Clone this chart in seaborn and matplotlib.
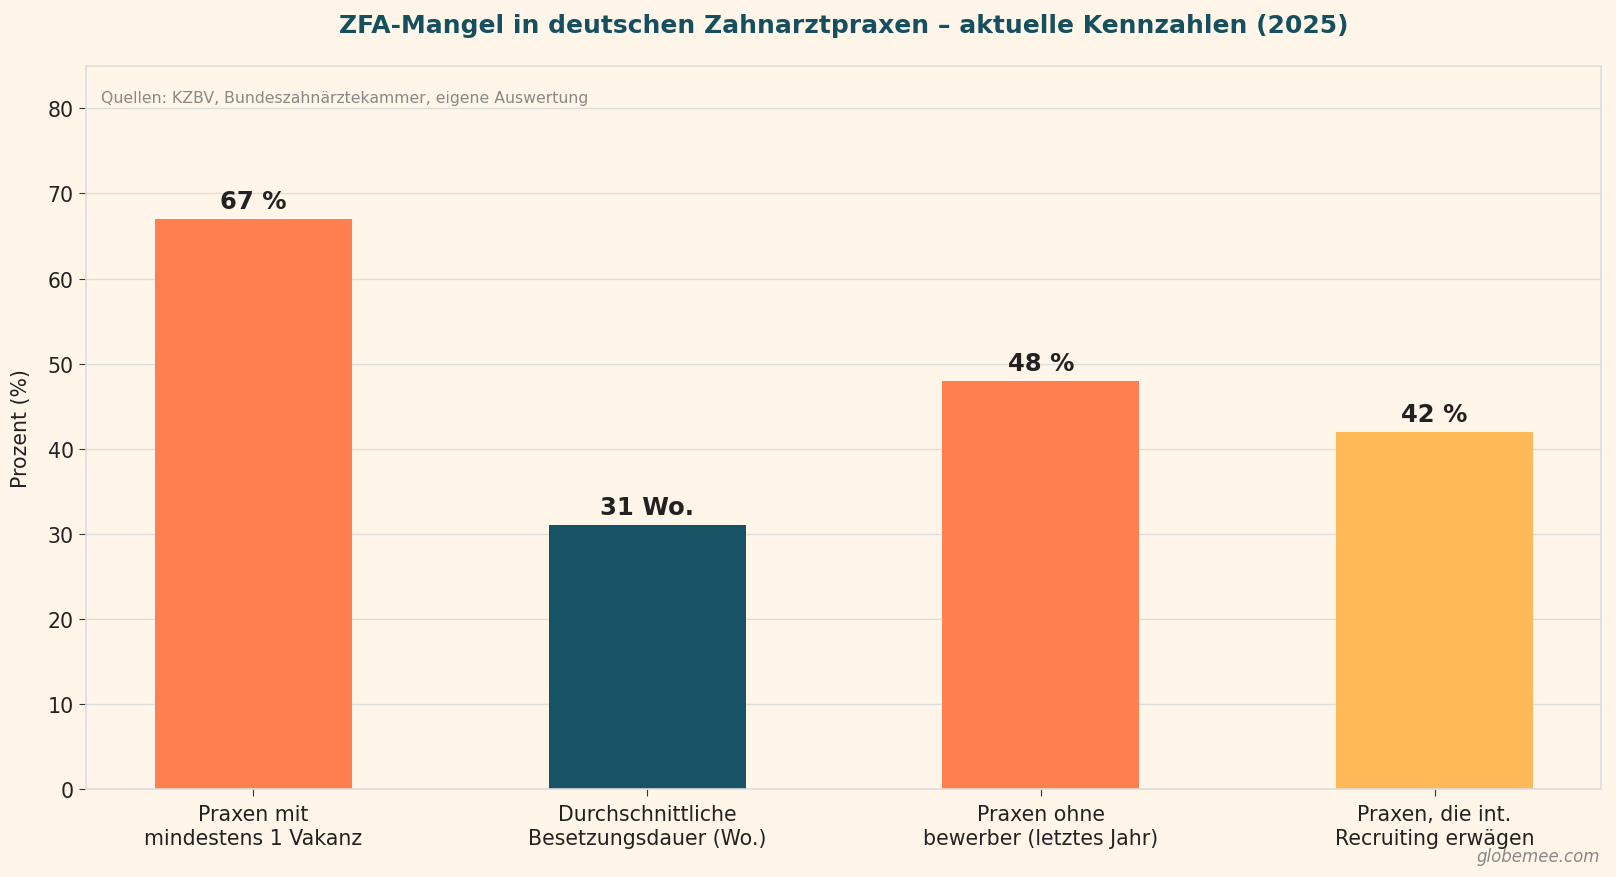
import pandas as pd
import seaborn as sns
import matplotlib.pyplot as plt

# Kennzahlen
labels = ['Praxen mit\nmindestens 1 Vakanz', 'Durchschnittliche\nBesetzungsdauer (Wo.)',
          'Praxen ohne\nbewerber (letztes Jahr)', 'Praxen, die int.\nRecruiting erwägen']
values = [67, 31, 48, 42]
value_text = ['67 %', '31 Wo.', '48 %', '42 %']
colors = ['#FF7F50', '#175364', '#FF7F50', '#FFB957']

df = pd.DataFrame({'label': labels, 'value': values})

bg = '#FFF5E8'
sns.set_style('whitegrid')
plt.rcParams['font.family'] = ['DejaVu Sans']

fig, ax = plt.subplots(figsize=(16.16, 8.78), dpi=100)
fig.patch.set_facecolor(bg)
ax.set_facecolor(bg)

sns.barplot(data=df, x='label', y='value', hue='label', palette=colors,
            width=0.5, legend=False, ax=ax, saturation=1, linewidth=0)

for i, (v, t) in enumerate(zip(values, value_text)):
    ax.text(i, v + 0.7, t, ha='center', va='bottom', fontsize=17.5,
            fontweight='bold', color='#222222')

ax.set_ylim(0, 85)
ax.set_xlim(-0.426, 3.424)
ax.set_yticks(range(0, 81, 10))
ax.grid(axis='y', color='#DDDDDD', linewidth=1)
ax.grid(axis='x', visible=False)
for s in ax.spines.values():
    s.set_color('#DDDDDD')
    s.set_linewidth(1.2)
ax.tick_params(axis='both', labelsize=14.8, colors='#222222', length=5,
               color='#333333', bottom=True, left=True)
ax.tick_params(axis='x', pad=6)
ax.set_xlabel('')
ax.set_ylabel('Prozent (%)', fontsize=14.8, color='#222222', labelpad=12)

ax.set_title('ZFA-Mangel in deutschen Zahnarztpraxen – aktuelle Kennzahlen (2025)',
             fontsize=18, fontweight='bold', color='#16505F', pad=24)
ax.text(0.01, 0.966, 'Quellen: KZBV, Bundeszahnärztekammer, eigene Auswertung',
        transform=ax.transAxes, fontsize=11.3, color='#888888', va='top')
fig.text(0.99, 0.018, 'globemee.com', ha='right', fontsize=12, style='italic',
         color='#888888')

plt.subplots_adjust(left=0.053, right=0.991, top=0.924, bottom=0.1)
plt.savefig('out.png', dpi=100, facecolor=bg)
